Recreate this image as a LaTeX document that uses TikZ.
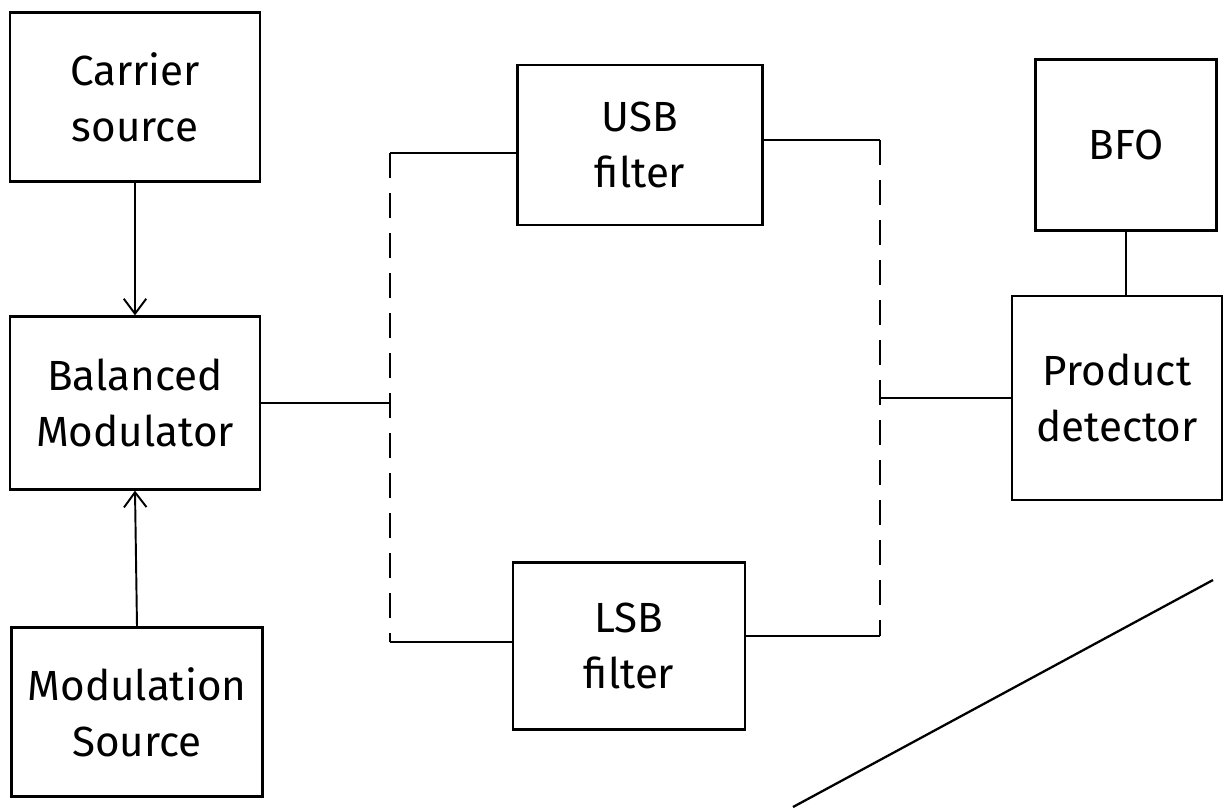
\documentclass[tikz,border=0pt]{standalone}
\usepackage{fontspec}
\setmainfont{Fira Sans}
\usetikzlibrary{arrows.meta}
\begin{document}
\begin{tikzpicture}[x=0.02cm,y=-0.02cm,
  blk/.style={draw, line width=1.3pt, inner sep=0pt, align=center,
    font=\fontsize{24}{32}\selectfont},
  wire/.style={line width=1.3pt},
  dwire/.style={line width=1.1pt, dash pattern=on 0.5cm off 0.3cm},
  arr/.style={line width=1.1pt, -{Straight Barb[length=0.3cm,width=0.45cm,line width=1.1pt]}}]
\useasboundingbox (0,0) rectangle (1231,809);
\node[blk, minimum width=5cm, minimum height=3.38cm] (cs) at (135,97) {Carrier\\source};
\node[blk, minimum width=5cm, minimum height=3.46cm] (bm) at (135,403) {Balanced\\Modulator};
\node[blk, minimum width=5.02cm, minimum height=3.38cm] (ms) at (137,712) {Modulation\\Source};
\node[blk, minimum width=4.9cm, minimum height=3.2cm] (usb) at (640,145) {USB\\filter};
\node[blk, minimum width=4.64cm, minimum height=3.34cm] (lsb) at (629,646) {LSB\\filter};
\node[blk, minimum width=3.62cm, minimum height=3.42cm] (bfo) at (1126,145) {BFO};
\node[blk, minimum width=4.2cm, minimum height=4.08cm] (pd) at (1117,398) {Product\\detector};
\coordinate (lt) at (390,153);
\coordinate (lb) at (390,642);
\coordinate (rt) at (880,140);
\coordinate (rb) at (880,636);
\coordinate (d1) at (793,807);
\coordinate (d2) at (1213,580);
\draw[arr] (cs.south) -- (bm.north);
\draw[arr] (ms.north) -- (bm.south);
\draw[wire] (bm.east) -- (bm.east -| lt);
\draw[wire] (lt) -- (lt -| usb.west);
\draw[wire] (lb) -- (lb -| lsb.west);
\draw[wire] (rt) -- (rt -| usb.east);
\draw[wire] (rb) -- (rb -| lsb.east);
\draw[wire] (pd.west) -- (pd.west -| rt);
\draw[dwire] (lt) -- (lb);
\draw[dwire] (rt) -- (rb);
\draw[wire] (bfo.south) -- (bfo.south |- pd.north);
\draw[wire] (d1) -- (d2);
\end{tikzpicture}
\end{document}
